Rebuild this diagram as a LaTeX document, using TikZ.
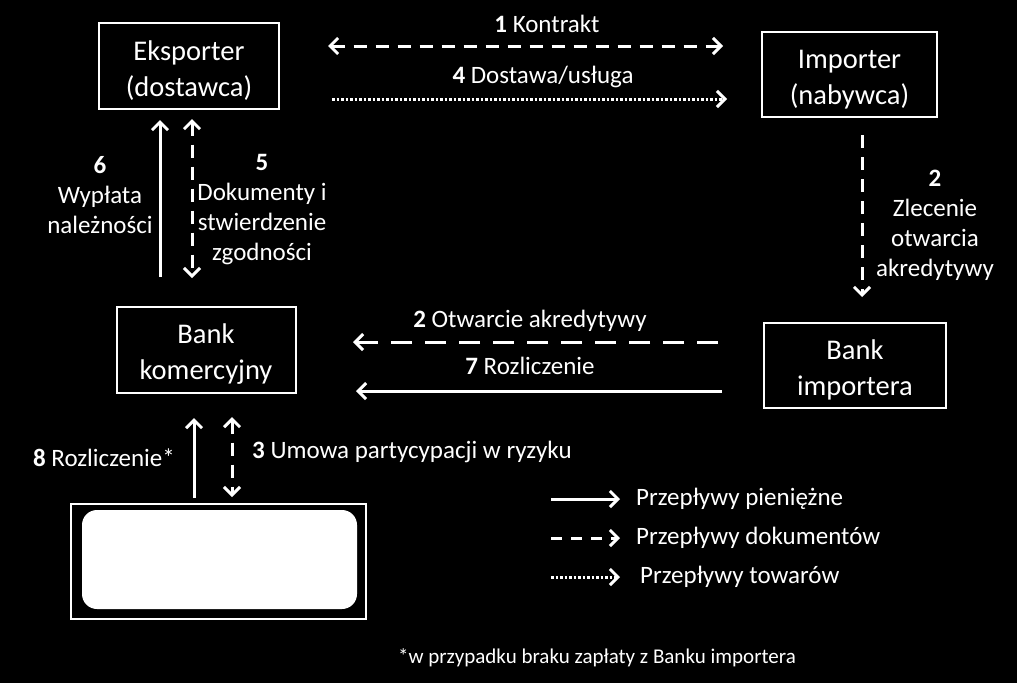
\documentclass[tikz,border=0pt]{standalone}
\usepackage{fontspec}
\setmainfont{Carlito}
\usetikzlibrary{arrows.meta}
\begin{document}
\begin{tikzpicture}[x=1pt,y=-1pt,
  box/.style={draw=white, line width=2pt, align=center, text=white,
    font=\fontsize{28.5}{36}\selectfont, inner sep=0pt},
  lbl/.style={text=white, align=center, font=\fontsize{25}{30}\selectfont, inner sep=0pt},
  flow/.style={white, line width=3pt, -{Straight Barb[length=8pt,width=16pt]}},
  flowboth/.style={white, line width=3pt, {Straight Barb[length=8pt,width=16pt]}-{Straight Barb[length=8pt,width=16pt]}},
  docs/.style={dash pattern=on 13pt off 9pt},
  longdocs/.style={dash pattern=on 21pt off 13pt},
  goods/.style={dash pattern=on 2.5pt off 2pt},
]
\fill[black] (0,0) rectangle (1017,683);
\useasboundingbox (0,0) rectangle (1017,683);
\newcommand{\dnstrut}{\rule{0pt}{28pt}}

% boxes
\node[box, minimum width=180pt, minimum height=86pt] (exp) at (189,66) {\dnstrut Eksporter\\(dostawca)};
\node[box, minimum width=175pt, minimum height=85pt] (imp) at (849.5,74.5) {\dnstrut Importer\\(nabywca)};
\node[box, minimum width=179pt, minimum height=86pt] (bk) at (206,350) {\dnstrut Bank\\komercyjny};
\node[box, minimum width=182pt, minimum height=85pt] (bi) at (855,365.5) {\dnstrut Bank\\importera};
\node[box, minimum width=295pt, minimum height=115pt] (ins) at (218.5,561.5) {};
\node[fill=white, rounded corners=15pt, minimum width=275pt, minimum height=99pt, inner sep=0pt] (insin) at (219.5,559.5) {};

% coordinates of connector ends
\coordinate (k1a) at (328,46);  \coordinate (k1b) at (723,46);
\coordinate (d4a) at (332,99);  \coordinate (d4b) at (727,99);
\coordinate (z2a) at (862,135); \coordinate (z2b) at (862,297);
\coordinate (w6a) at (160,277); \coordinate (w6b) at (160,120);
\coordinate (d5a) at (192,119); \coordinate (d5b) at (192,278);
\coordinate (o2a) at (718,342); \coordinate (o2b) at (353,342);
\coordinate (r7a) at (722,391); \coordinate (r7b) at (356,391);
\coordinate (r8a) at (194,498); \coordinate (r8b) at (194,418);
\coordinate (u3a) at (232,417); \coordinate (u3b) at (232,497);

% connectors
\draw[flowboth, docs] (k1a) -- (k1b);
\draw[flow, goods] (d4a) -- (d4b);
\draw[flow, docs] (z2a) -- (z2b);
\draw[flow] (w6a) -- (w6b);
\draw[flowboth, docs] (d5a) -- (d5b);
\draw[flow, longdocs] (o2a) -- (o2b);
\draw[flow] (r7a) -- (r7b);
\draw[flow] (r8a) -- (r8b);
\draw[flowboth, docs] (u3a) -- (u3b);

% labels
\node[lbl] (l1) at (547,24) {\textbf{1} Kontrakt};
\node[lbl] (l4) at (543,77) {\textbf{4} Dostawa/usługa};
\node[lbl] (l2z) at (935,225) {\textbf{2}\\Zlecenie\\otwarcia\\akredytywy};
\node[lbl] (l6) at (100,195) {\textbf{6}\\Wypłata\\należności};
\node[lbl] (l5) at (262,209.5) {\textbf{5}\\Dokumenty i\\stwierdzenie\\zgodności};
\node[lbl] (l2o) at (530,321) {\textbf{2} Otwarcie akredytywy};
\node[lbl] (l7) at (530,366) {\textbf{7} Rozliczenie};
\node[lbl, anchor=east] (l8) at (175,458) {\textbf{8} Rozliczenie*};
\node[lbl, anchor=west] (l3) at (252,452) {\textbf{3} Umowa partycypacji w ryzyku};

% legend
\coordinate (g1a) at (551,499); \coordinate (g1b) at (620,499);
\coordinate (g2a) at (551,538); \coordinate (g2b) at (620,538);
\coordinate (g3a) at (551,577); \coordinate (g3b) at (620,577);
\draw[flow] (g1a) -- (g1b);
\draw[flow, dash pattern=on 11pt off 9pt] (g2a) -- (g2b);
\draw[flow, goods] (g3a) -- (g3b);
\node[lbl, anchor=west] (t1) at (636,499) {Przepływy pieniężne};
\node[lbl, anchor=west] (t2) at (636,538) {Przepływy dokumentów};
\node[lbl, anchor=west] (t3) at (640,577) {Przepływy towarów};

\node[text=white, font=\fontsize{21}{25}\selectfont, inner sep=0pt] (fn) at (597,658) {*w przypadku braku zapłaty z Banku importera};
\end{tikzpicture}
\end{document}
